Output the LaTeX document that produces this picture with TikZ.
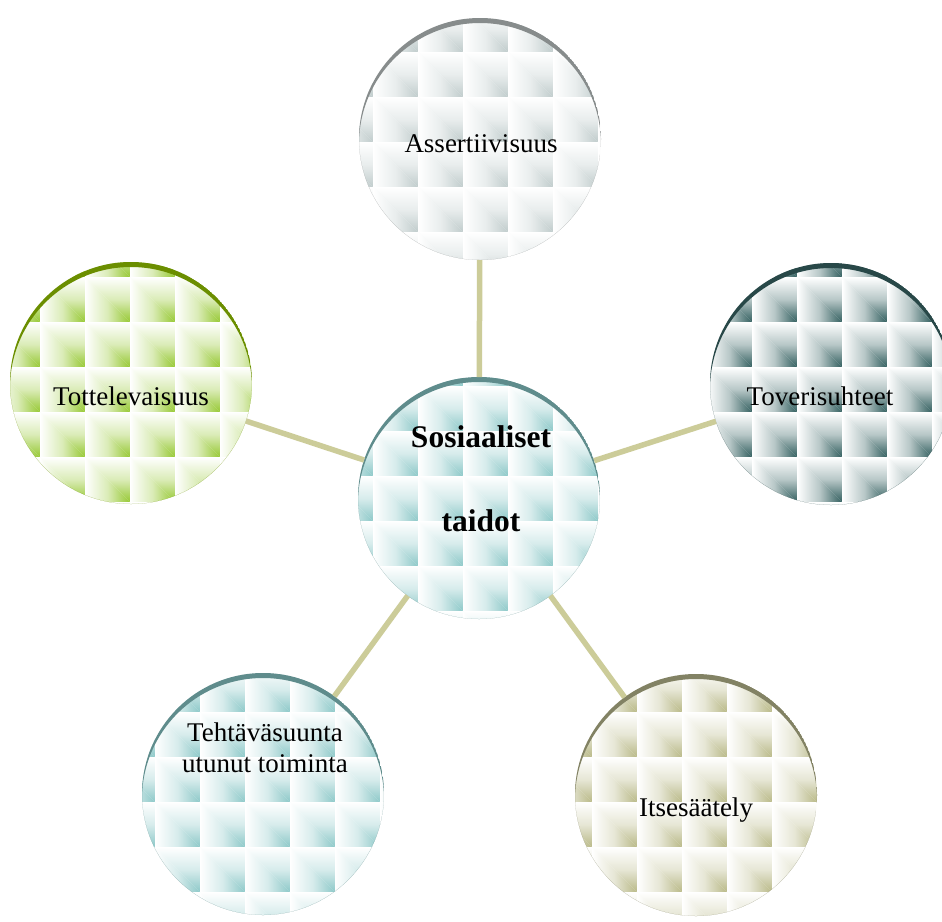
\documentclass[tikz,border=0pt]{standalone}
\usepackage{fontspec}
\setmainfont{Liberation Serif}
\definecolor{tgray}{RGB}{192,204,204}
\definecolor{agray}{RGB}{135,140,140}
\definecolor{tteal}{RGB}{140,200,200}
\definecolor{ateal}{RGB}{95,140,140}
\definecolor{tdark}{RGB}{50,95,95}
\definecolor{adark}{RGB}{40,72,72}
\definecolor{tgreen}{RGB}{150,200,50}
\definecolor{agreen}{RGB}{107,142,0}
\definecolor{tkhaki}{RGB}{185,185,135}
\definecolor{akhaki}{RGB}{130,130,100}
\definecolor{conncol}{RGB}{204,204,153}
\tikzset{
  circ/.style={circle, minimum size=242pt, inner sep=0pt, outer sep=0pt},
  conn/.style={draw=conncol, line width=5.5pt},
  lab/.style={anchor=base, inner sep=0pt, font=\fontsize{27}{31}\selectfont},
  boldlab/.style={anchor=base, inner sep=0pt, font=\fontsize{31.5}{36}\selectfont\bfseries},
}
% #1 name, #2 cx, #3 cy, #4 ox, #5 oy, #6 tile colour, #7 arc colour
\newcommand\tilecircle[7]{%
  \node[circ] (#1) at (#2,#3) {};
  \begin{scope}
    \clip (#2,#3) circle (121pt);
    \foreach \i in {0,...,6}{%
      \foreach \j in {0,...,6}{%
        \pgfmathsetmacro\tx{#4+45*\i}%
        \pgfmathsetmacro\ty{#5+45*\j}%
        \shade[top color=white, bottom color=#6, middle color=#6!35!white]
          (\tx,\ty) -- ++(45,0) -- ++(0,45) -- cycle;
        \shade[left color=white, right color=#6, middle color=#6!35!white]
          (\tx,\ty) -- ++(0,45) -- ++(45,0) -- cycle;
      }%
    }
    \fill[#7, even odd rule] (#2,#3) circle (121pt) (#2,#3+5) circle (121pt);
  \end{scope}
}
\begin{document}
\begin{tikzpicture}[x=1pt,y=-1pt]
\useasboundingbox (0,0) rectangle (942,921);
\fill[white] (0,0) rectangle (942,921);
\tilecircle{c0}{480}{139}{328}{7}{tgray}{agray}
\tilecircle{c1}{479}{498}{328}{341}{tteal}{ateal}
\tilecircle{c2}{831}{384}{707}{232}{tdark}{adark}
\tilecircle{c3}{131}{383}{-5}{232}{tgreen}{agreen}
\tilecircle{c4}{263}{794}{110}{667}{tteal}{ateal}
\tilecircle{c5}{696}{795}{547}{667}{tkhaki}{akhaki}
\draw[conn] (c1) -- (c0);
\draw[conn] (c1) -- (c2);
\draw[conn] (c1) -- (c3);
\draw[conn] (c1) -- (c4);
\draw[conn] (c1) -- (c5);
\node[lab] (t0) at (481,152) {Assertiivisuus};
\node[boldlab] (t1a) at (481,447) {Sosiaaliset};
\node[boldlab] (t1b) at (481,531) {taidot};
\node[lab] (t2) at (820,405) {Toverisuhteet};
\node[lab] (t3) at (131,405) {Tottelevaisuus};
\node[lab] (t4a) at (265,741) {Tehtäväsuunta};
\node[lab] (t4b) at (265,772) {utunut toiminta};
\node[lab] (t5) at (696,816) {Itsesäätely};
\end{tikzpicture}
\end{document}
